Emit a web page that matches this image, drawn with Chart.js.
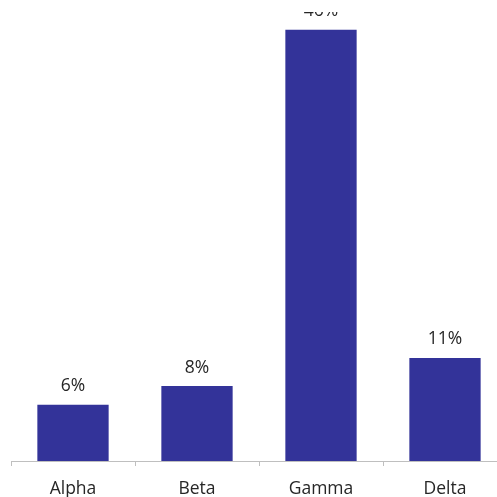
<!DOCTYPE html>
<html>
<head>
<meta charset="utf-8">
<title>Shares</title>
<script src="https://cdn.jsdelivr.net/npm/chart.js@4.4.1/dist/chart.umd.min.js"></script>
<style>
    html, body {
        margin: 0;
        padding: 0;
        background: #ffffff;
        overflow: hidden;
    }
    #box {
        position: absolute;
        left: 0;
        top: 12px;
        width: 510px;
        height: 485px;
    }
</style>
</head>
<body>
<div id="box"><canvas id="grafico"></canvas></div>
<script>
const categorias = ['Alpha', 'Beta', 'Gamma', 'Delta'];
const percentuais = [6, 8, 46, 11];

const corBarra = '#333399';
const corTexto = '#262626';
const corEixo = '#bfbfbf';
const fonte = '"Open Sans", "Liberation Sans", sans-serif';

// writes "n%" above each bar
const rotulosValor = {
    id: 'rotulosValor',
    afterDatasetsDraw(chart) {
        const ctx = chart.ctx;
        const meta = chart.getDatasetMeta(0);
        ctx.save();
        ctx.font = '17.5px ' + fonte;
        ctx.fillStyle = corTexto;
        ctx.textAlign = 'center';
        ctx.textBaseline = 'alphabetic';
        meta.data.forEach((barra, i) => {
            ctx.fillText(percentuais[i] + '%', barra.x, barra.y - 13.5);
        });
        ctx.restore();
    }
};

function gerarGrafico() {
    const ctx = document.getElementById('grafico').getContext('2d');

    new Chart(ctx, {
        type: 'bar',
        data: {
            labels: categorias,
            datasets: [{
                data: percentuais,
                backgroundColor: corBarra,
                borderWidth: 0,
                barPercentage: 0.575,
                categoryPercentage: 1
            }]
        },
        options: {
            responsive: true,
            maintainAspectRatio: false,
            animation: false,
            layout: {
                padding: { left: 11, right: 3, top: 0, bottom: -16 }
            },
            plugins: {
                legend: { display: false },
                tooltip: { enabled: false }
            },
            scales: {
                x: {
                    offset: true,
                    border: { display: true, color: corEixo, width: 1 },
                    grid: {
                        offset: true,
                        drawOnChartArea: false,
                        drawTicks: true,
                        tickLength: 5,
                        color: corEixo
                    },
                    ticks: {
                        color: corTexto,
                        padding: 13,
                        font: { family: fonte, size: 17.5 }
                    }
                },
                y: {
                    display: false,
                    min: 0,
                    max: 47.9
                }
            }
        },
        plugins: [rotulosValor]
    });
}

document.addEventListener("DOMContentLoaded", function() {
    gerarGrafico();
});
</script>
</body>
</html>
